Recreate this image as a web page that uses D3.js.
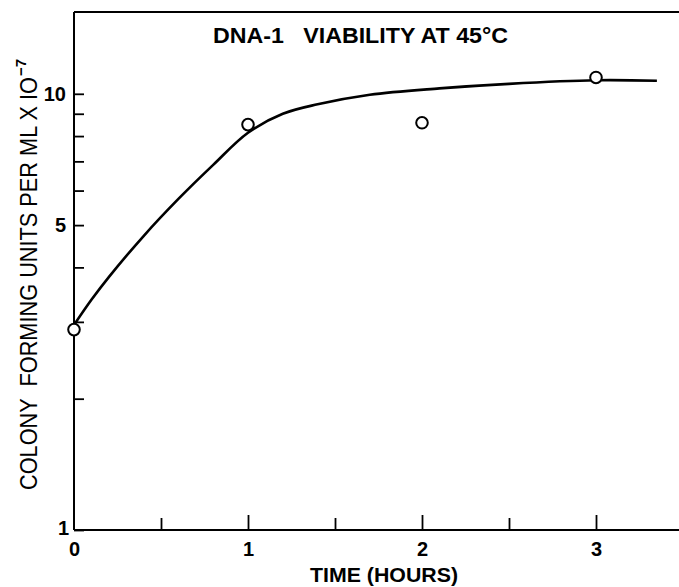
<!DOCTYPE html>
<html>
<head>
<meta charset="utf-8">
<script src="https://cdn.jsdelivr.net/npm/d3@7"></script>
<style>
  html, body { margin: 0; padding: 0; background: #fff; }
  svg { display: block; }
  text { font-family: "Liberation Sans", Arial, sans-serif; fill: #000; white-space: pre; }
</style>
</head>
<body>
<svg id="chart" width="679" height="587"></svg>
<script>
// Data
const pointTimes = [0, 1, 2, 3];
const pointValues = [2.88, 8.5, 8.58, 10.9];
const curveTimes = [0, 0.1, 0.2, 0.4, 0.6, 0.8, 1.0, 1.2, 1.4, 1.7, 2.1, 2.5, 3.0, 3.35];
const curveValues = [2.95, 3.37, 3.80, 4.72, 5.74, 6.87, 8.14, 9.0, 9.46, 9.95, 10.29, 10.54, 10.74, 10.71];
const xTickValues = [0, 0.5, 1, 1.5, 2, 2.5, 3];
const xTickLabels = ["0", "", "1", "", "2", "", "3"];
const yTickValues = [1, 2, 3, 4, 5, 6, 7, 8, 9, 10];
const yTickLabels = ["1", "", "", "", "5", "", "", "", "", "10"];
const titleText = "DNA-1   VIABILITY AT 45\u00B0C";
const xLabelText = "TIME (HOURS)";
const yLabelText = "COLONY  FORMING UNITS PER ML X IO";
const yLabelExp = "\u22127";

const svg = d3.select("#chart");
const x = d3.scaleLinear().domain([0, 3.477]).range([74, 679]);
const y = d3.scaleLog().domain([1, 15.4]).range([530, 12]);

// Top border
svg.append("line")
  .attr("x1", x(0)).attr("x2", 679).attr("y1", y(15.4)).attr("y2", y(15.4))
  .attr("stroke", "#000").attr("stroke-width", 2);

// Y axis
const yAxis = d3.axisLeft(y)
  .tickValues(yTickValues)
  .tickSize(-10)
  .tickPadding(8)
  .tickFormat((d, i) => yTickLabels[i]);
const gy = svg.append("g").attr("transform", `translate(${x(0)},0)`).call(yAxis);
gy.select(".domain").attr("stroke", "#000").attr("stroke-width", 2)
  .attr("d", `M0,${y(1)}V${y(15.4)}`);
gy.selectAll(".tick line").attr("stroke", "#000").attr("stroke-width", 1.8);
gy.selectAll(".tick text").attr("font-size", 20).attr("font-weight", "bold")
  .attr("font-family", "Liberation Sans, Arial, sans-serif").attr("fill", "#000");
gy.selectAll(".tick text").filter(d => d === 1).attr("dx", 3).attr("dy", "0.2em");

// X axis
const xAxis = d3.axisBottom(x)
  .tickValues(xTickValues)
  .tickSize(-15)
  .tickPadding(12)
  .tickFormat((d, i) => xTickLabels[i]);
const gx = svg.append("g").attr("transform", `translate(0,${y(1)})`).call(xAxis);
gx.select(".domain").attr("stroke", "#000").attr("stroke-width", 2)
  .attr("d", `M${x(0)},0H679`);
gx.selectAll(".tick line").attr("stroke", "#000").attr("stroke-width", 1.8)
  .attr("y2", d => (d % 1 === 0 ? -15 : -12));
gx.selectAll(".tick").filter(d => d === 0).select("line").remove();
gx.selectAll(".tick text").attr("font-size", 20).attr("font-weight", "bold")
  .attr("font-family", "Liberation Sans, Arial, sans-serif").attr("fill", "#000");

// Curve
const line = d3.line()
  .x((d, i) => x(curveTimes[i]))
  .y((d, i) => y(curveValues[i]))
  .curve(d3.curveCatmullRom.alpha(0.5));
svg.append("path")
  .attr("d", line(curveValues))
  .attr("fill", "none").attr("stroke", "#000").attr("stroke-width", 2.6);

// Points
svg.selectAll("circle.pt").data(pointValues).enter().append("circle")
  .attr("class", "pt")
  .attr("cx", (d, i) => x(pointTimes[i]))
  .attr("cy", d => y(d))
  .attr("r", 5.8)
  .attr("fill", "#fff").attr("stroke", "#000").attr("stroke-width", 2);

// Title
svg.append("text")
  .attr("x", 213).attr("y", 43)
  .attr("font-size", 22).attr("font-weight", "bold")
  .attr("textLength", 295).attr("lengthAdjust", "spacingAndGlyphs")
  .text(titleText);

// X label
svg.append("text")
  .attr("x", 310).attr("y", 582)
  .attr("font-size", 20).attr("font-weight", "bold")
  .attr("textLength", 148).attr("lengthAdjust", "spacingAndGlyphs")
  .text(xLabelText);

// Y label
const gl = svg.append("g").attr("transform", "translate(37,490) rotate(-90)");
gl.append("text")
  .attr("x", 0).attr("y", 0)
  .attr("font-size", 23)
  .attr("textLength", 413).attr("lengthAdjust", "spacingAndGlyphs")
  .text(yLabelText);
gl.append("text")
  .attr("x", 414).attr("y", -11)
  .attr("font-size", 15).attr("font-weight", "bold")
  .text(yLabelExp);
</script>
</body>
</html>
